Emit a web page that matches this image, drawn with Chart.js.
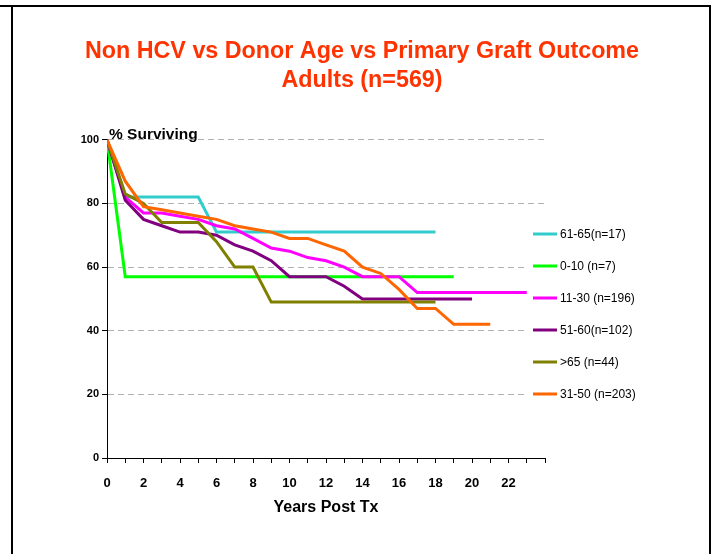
<!DOCTYPE html>
<html>
<head>
<meta charset="utf-8">
<title>Non HCV vs Donor Age vs Primary Graft Outcome</title>
<script src="https://cdn.jsdelivr.net/npm/chart.js@4.4.1/dist/chart.umd.min.js"></script>
<style>
  html, body { margin: 0; padding: 0; background: #fff; }
  #wrap { position: relative; width: 716px; height: 554px; overflow: hidden; }
  #chart { position: absolute; left: 0; top: 0; }
  .rule { position: absolute; background: #000; }
</style>
</head>
<body>
<div id="wrap">
  <canvas id="chart" width="716" height="554"></canvas>
  <div class="rule" style="left:0;top:5px;width:711px;height:2px"></div>
  <div class="rule" style="left:11px;top:5px;width:2px;height:549px"></div>
  <div class="rule" style="left:709px;top:5px;width:2px;height:549px"></div>
</div>
<script>
// Years after transplant (x positions of every series point)
const years = [0, 1, 2, 3, 4, 5, 6, 7, 8, 9, 10, 11, 12, 13, 14, 15, 16, 17, 18, 19, 20, 21, 22, 23];

// Percent of grafts surviving, by donor age group, one value per year
const age61to65 = [100, 82, 82, 82, 82, 82, 71, 71, 71, 71, 71, 71, 71, 71, 71, 71, 71, 71, 71];
const age0to10  = [100, 57, 57, 57, 57, 57, 57, 57, 57, 57, 57, 57, 57, 57, 57, 57, 57, 57, 57, 57];
const age11to30 = [100, 82, 77, 77, 76, 75, 73, 72, 69, 66, 65, 63, 62, 60, 57, 57, 57, 52, 52, 52, 52, 52, 52, 52];
const age51to60 = [100, 81, 75, 73, 71, 71, 70, 67, 65, 62, 57, 57, 57, 54, 50, 50, 50, 50, 50, 50, 50];
const ageOver65 = [100, 83, 80, 74, 74, 74, 68, 60, 60, 49, 49, 49, 49, 49, 49, 49, 49, 49, 49];
const age31to50 = [100, 87, 79, 78, 77, 76, 75, 73, 72, 71, 69, 69, 67, 65, 60, 58, 53, 47, 47, 42, 42, 42];

const seriesNames  = ['61-65(n=17)', '0-10 (n=7)', '11-30 (n=196)', '51-60(n=102)', '>65 (n=44)', '31-50 (n=203)'];
const seriesValues = [age61to65, age0to10, age11to30, age51to60, ageOver65, age31to50];
const seriesColors = ['#33CCCC', '#00FF00', '#FF00FF', '#800080', '#808000', '#FF6600'];

// Axis tick labels
const xTickLabels = ['0', '2', '4', '6', '8', '10', '12', '14', '16', '18', '20', '22'];
const yTickValues = [0, 20, 40, 60, 80, 100];

const titleLines = ['Non HCV vs Donor Age vs Primary Graft Outcome', 'Adults (n=569)'];
const yAxisCaption = '% Surviving';
const xAxisCaption = 'Years Post Tx';

const FONT = '"Liberation Sans", Arial, Helvetica, sans-serif';
Chart.defaults.font.family = FONT;
Chart.defaults.color = '#000';

// Horizontal "% Surviving" caption sitting above the value axis
const yCaption = {
  id: 'yCaption',
  afterDraw(chart) {
    const { ctx, chartArea } = chart;
    ctx.save();
    ctx.font = 'bold 15.5px ' + FONT;
    ctx.fillStyle = '#000';
    ctx.textAlign = 'left';
    ctx.textBaseline = 'alphabetic';
    ctx.fillText(yAxisCaption, chartArea.left + 2, chartArea.top - 1);
    ctx.restore();
  }
};

// Legend box on the right edge, overlapping the end of the plot area
const sideLegend = {
  id: 'sideLegend',
  afterDraw(chart) {
    const { ctx, chartArea } = chart;
    const left = chartArea.right - 18;
    ctx.save();
    ctx.fillStyle = '#fff';
    ctx.fillRect(left, 216, 176, 196);
    ctx.font = '12px ' + FONT;
    ctx.textAlign = 'left';
    ctx.textBaseline = 'middle';
    chart.data.datasets.forEach((ds, i) => {
      const y = 234 + i * 32;
      ctx.strokeStyle = ds.borderColor;
      ctx.lineWidth = 3;
      ctx.beginPath();
      ctx.moveTo(left + 6, y);
      ctx.lineTo(left + 30, y);
      ctx.stroke();
      ctx.fillStyle = '#000';
      ctx.fillText(ds.label, left + 33, y + 0.5);
    });
    ctx.restore();
  }
};

const datasets = seriesValues.map((vals, i) => ({
  label: seriesNames[i],
  data: vals.map((v, k) => ({ x: years[k], y: v })),
  borderColor: seriesColors[i],
  backgroundColor: seriesColors[i],
  borderWidth: 3,
  pointRadius: 0,
  tension: 0,
  fill: false,
  order: seriesValues.length - 1 - i
}));

new Chart(document.getElementById('chart'), {
  type: 'line',
  data: { datasets },
  options: {
    responsive: false,
    animation: false,
    devicePixelRatio: 1,
    layout: { padding: { left: 20, right: 12, top: 0, bottom: 36.4 } },
    plugins: {
      legend: { display: false },
      tooltip: { enabled: false },
      title: {
        display: true,
        text: titleLines,
        color: '#FF3300',
        font: { size: 23.3, weight: 'bold', lineHeight: 1.26 },
        padding: { top: 36.5, bottom: 44.6 }
      }
    },
    scales: {
      x: {
        type: 'linear',
        min: 0,
        max: 24,
        ticks: {
          stepSize: 1,
          autoSkip: false,
          maxRotation: 0,
          padding: 12.5,
          font: { size: 13, weight: 'bold' },
          color: '#000',
          callback: (v) => (xTickLabels.includes(String(v)) ? String(v) : '')
        },
        grid: { drawOnChartArea: false, drawTicks: true, tickLength: 5, tickColor: '#000', color: '#000' },
        border: { display: true, color: '#000', width: 1 },
        title: {
          display: true,
          text: xAxisCaption,
          color: '#000',
          font: { size: 16, weight: 'bold' },
          padding: { top: 6, bottom: 0 }
        },
        afterFit: (scale) => { scale.height = 59.6; }
      },
      y: {
        type: 'linear',
        min: 0,
        max: 100,
        afterBuildTicks: (scale) => { scale.ticks = yTickValues.map((v) => ({ value: v })); },
        ticks: { padding: 3, font: { size: 11, weight: 'bold' }, color: '#000' },
        grid: {
          color: (c) => (c.tick && c.tick.value === 0 ? 'rgba(0,0,0,0)' : '#b0b0b0'),
          lineWidth: 1,
          tickLength: 5,
          tickColor: '#000',
          tickBorderDash: []
        },
        border: { display: true, color: '#000', width: 1, dash: [6, 4] },
        afterFit: (scale) => { scale.width = 87; }
      },
      legendSpace: {
        type: 'linear',
        position: 'right',
        display: true,
        grid: { display: false, drawTicks: false },
        ticks: { display: false },
        border: { display: false },
        afterFit: (scale) => { scale.width = 159; }
      }
    }
  },
  plugins: [yCaption, sideLegend]
});
</script>
</body>
</html>
